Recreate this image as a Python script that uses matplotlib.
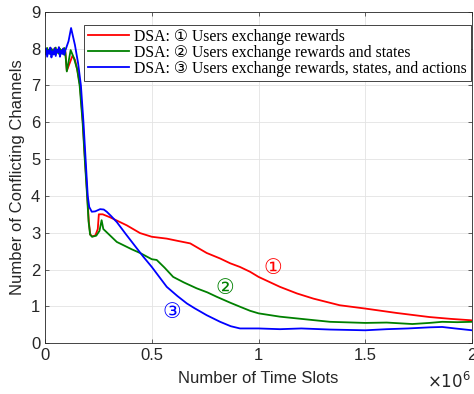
import matplotlib
matplotlib.use("Agg")
import matplotlib.pyplot as plt

# -----------------------------
# Data (x in units of 1e6 time slots)
# -----------------------------
x_noise = [0.0, 0.005, 0.01, 0.015, 0.02, 0.025, 0.03, 0.035, 0.04, 0.045,
           0.05, 0.055, 0.06, 0.065, 0.07, 0.075, 0.08, 0.085, 0.09, 0.095]

red_x = x_noise + [0.102, 0.115, 0.128, 0.14, 0.152, 0.164, 0.177, 0.187, 0.198, 0.205,
                   0.212, 0.222, 0.236, 0.247, 0.252, 0.27, 0.304, 0.34, 0.383, 0.445,
                   0.5, 0.57, 0.62, 0.68, 0.757, 0.82, 0.867, 0.913, 0.96, 1.0,
                   1.1, 1.18, 1.257, 1.38, 1.5, 1.647, 1.8, 1.9, 2.0]
red_y = [7.9, 8.0, 7.85, 7.97, 7.88, 8.02, 7.86, 7.95, 7.9, 8.01,
         7.84, 7.96, 7.9, 8.03, 7.87, 7.95, 7.9, 8.0, 7.86, 7.93] + \
        [7.4, 7.6, 7.8, 7.7, 7.4, 7.0, 6.0, 5.0, 4.0, 3.3,
         2.95, 2.9, 2.93, 3.1, 3.5, 3.5, 3.42, 3.32, 3.2, 2.99,
         2.89, 2.84, 2.78, 2.71, 2.45, 2.3, 2.17, 2.07, 1.94, 1.80,
         1.53, 1.35, 1.21, 1.03, 0.94, 0.82, 0.71, 0.66, 0.62]

green_x = x_noise + [0.102, 0.12, 0.135, 0.15, 0.162, 0.176, 0.186, 0.197, 0.204, 0.211,
                     0.22, 0.24, 0.255, 0.265, 0.273, 0.3, 0.336, 0.406, 0.445, 0.5,
                     0.523, 0.56, 0.6, 0.65, 0.71, 0.76, 0.804, 0.867, 0.913, 0.96,
                     1.0, 1.1, 1.2, 1.335, 1.5, 1.6, 1.72, 1.8, 1.86, 1.93, 2.0]
green_y = [7.92, 7.86, 8.02, 7.88, 7.97, 7.85, 8.0, 7.9, 7.96, 7.86,
           8.03, 7.88, 7.95, 7.86, 8.0, 7.9, 7.97, 7.85, 8.02, 7.9] + \
          [7.38, 7.96, 7.75, 7.45, 7.0, 6.0, 5.0, 4.0, 3.3, 2.95,
           2.89, 2.92, 3.05, 3.34, 3.1, 2.95, 2.75, 2.55, 2.45, 2.28,
           2.26, 2.05, 1.80, 1.65, 1.49, 1.38, 1.26, 1.10, 0.99, 0.88,
           0.81, 0.72, 0.66, 0.58, 0.55, 0.56, 0.52, 0.55, 0.58, 0.57, 0.58]

blue_x = x_noise + [0.11, 0.122, 0.14, 0.155, 0.168, 0.18, 0.19, 0.2, 0.207, 0.219,
                    0.235, 0.258, 0.275, 0.289, 0.31, 0.336, 0.38, 0.436, 0.46, 0.5,
                    0.57, 0.62, 0.664, 0.7, 0.757, 0.82, 0.87, 0.913, 1.0, 1.1,
                    1.2, 1.335, 1.5, 1.6, 1.7, 1.8, 1.86, 1.92, 2.0]
blue_y = [7.85, 8.0, 7.78, 7.95, 7.86, 8.03, 7.76, 7.93, 7.84, 8.01,
          7.8, 7.97, 7.9, 8.04, 7.78, 7.95, 7.86, 8.0, 7.83, 7.95] + \
         [8.2, 8.56, 8.1, 7.6, 7.0, 6.0, 5.0, 4.0, 3.7, 3.57,
          3.58, 3.64, 3.63, 3.57, 3.45, 3.29, 2.95, 2.53, 2.35, 2.07,
          1.53, 1.28, 1.08, 0.95, 0.76, 0.58, 0.46, 0.40, 0.40, 0.38,
          0.40, 0.37, 0.35, 0.38, 0.40, 0.43, 0.44, 0.40, 0.35]

labels = ["DSA: \u2460 Users exchange rewards",
          "DSA: \u2461 Users exchange rewards and states",
          "DSA: \u2462 Users exchange rewards, states, and actions"]
colors = ["#ff0000", "#008000", "#0000ff"]
marks = ["\u2460", "\u2461", "\u2462"]
mark_pos = [(1.068, 2.04), (0.843, 1.49), (0.595, 0.84)]

x_ticks = [0, 0.5, 1, 1.5, 2]
x_tick_labels = ["0", "0.5", "1", "1.5", "2"]
y_ticks = list(range(0, 10))

# -----------------------------
# Plot
# -----------------------------
plt.rcParams['font.family'] = ['Liberation Sans', 'DejaVu Sans']
fig = plt.figure(figsize=(4.74, 3.94), dpi=100)
ax = fig.add_axes([0.095, 0.129, 0.901, 0.841])

for xs, ys, c, lab in zip([red_x, green_x, blue_x], [red_y, green_y, blue_y], colors, labels):
    ax.plot(xs, ys, color=c, linewidth=1.3, label=lab)

for (mx, my), m, c in zip(mark_pos, marks, colors):
    ax.text(mx, my, m, color=c, fontsize=15, ha="center", va="center",
            family=["DejaVu Serif", "DejaVu Sans"])

ax.set_xlim(0, 2)
ax.set_ylim(0, 9)
ax.set_xticks(x_ticks)
ax.set_xticklabels(x_tick_labels)
ax.set_yticks(y_ticks)
ax.grid(True, color="#e3e3e3", linewidth=0.6)
ax.set_axisbelow(True)
ax.tick_params(direction="in", top=True, right=True, length=3,
               labelsize=12, colors="#262626", width=0.5)
for s in ax.spines.values():
    s.set_color("#262626")
    s.set_linewidth(0.6)

ax.set_xlabel("Number of Time Slots", fontsize=12, color="#262626", labelpad=6)
ax.set_ylabel("Number of Conflicting Channels", fontsize=12, color="#262626", labelpad=4)
ax.text(0.998, -0.115, r"$\times10^{6}$", transform=ax.transAxes, ha="right", va="center",
        fontsize=12, color="#262626")

leg = ax.legend(loc="upper right", bbox_to_anchor=(0.997, 0.961), fancybox=False,
                framealpha=1, edgecolor="#262626", handlelength=2.6, borderpad=0.25,
                labelspacing=0.0, handletextpad=0.35, borderaxespad=0,
                prop={"family": ["Liberation Serif", "DejaVu Sans"], "size": 11.3})
leg.get_frame().set_linewidth(0.6)

fig.savefig("out.png", dpi=100)
